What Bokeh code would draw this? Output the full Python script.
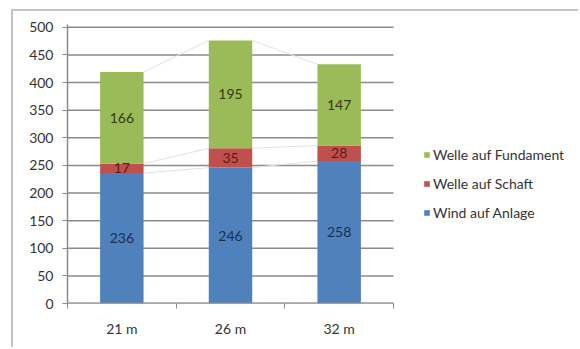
from bokeh.plotting import figure
from bokeh.models import (ColumnDataSource, Range1d, FixedTicker, Legend, LegendItem, LabelSet)
from bokeh.core.properties import value
from bokeh.embed import file_html
from bokeh.resources import INLINE

categories = ["21 m", "26 m", "32 m"]
series_names = ["Wind auf Anlage", "Welle auf Schaft", "Welle auf Fundament"]
wind = [236, 246, 258]
schaft = [17, 35, 28]
fundament = [166, 195, 147]
y_ticks = [0, 50, 100, 150, 200, 250, 300, 350, 400, 450, 500]

colors = ["#4F81BD", "#C0504D", "#9BBB59"]
label_colors = ["#1c2f52", "#5a1a18", "#2f3d12"]
FONT = "Lato"
GRID = "#8a8a8a"

n = len(categories)
xs = [i + 0.5 for i in range(n)]
series = [wind, schaft, fundament]

# outer chart border via CSS; figure offset inside the window
OFF_X, OFF_Y, BW = 11, 9, 2
p = figure(width=580 - OFF_X - BW, height=349 - OFF_Y - BW,
           output_backend="svg", toolbar_location=None,
           x_range=Range1d(0, n * 513 / 326), y_range=Range1d(0, 505),
           min_border_left=67 - OFF_X - BW, min_border_right=0,
           min_border_top=13, min_border_bottom=46)
p.margin = (OFF_Y, 0, 0, OFF_X)
p.styles = {"border-top": "2px solid #c4c4c4", "border-left": "2px solid #c4c4c4"}
p.outline_line_color = None
p.background_fill_color = "white"
p.border_fill_color = "white"

# grid lines (only across the category span)
p.segment(x0=[0] * len(y_ticks), x1=[n] * len(y_ticks), y0=y_ticks, y1=y_ticks,
          line_color=GRID, line_width=1.5)

bw = 0.4
bottoms = [0] * n
levels = []
for s in series:
    tops = [b + v for b, v in zip(bottoms, s)]
    levels.append((bottoms[:], tops[:]))
    bottoms = tops
# faint series lines
for (b, t) in levels:
    for i in range(n - 1):
        p.line([xs[i] + bw / 2, xs[i + 1] - bw / 2], [t[i], t[i + 1]],
               line_color="#e2e2e2", line_width=1)

renderers = []
for k, s in enumerate(series):
    b, t = levels[k]
    src = ColumnDataSource(dict(x=xs, bottom=b, top=t,
                                mid=[(bb + tt) / 2 for bb, tt in zip(b, t)],
                                lab=[str(v) for v in s]))
    r = p.vbar(x="x", bottom="bottom", top="top", width=bw, source=src,
               fill_color=colors[k], line_color=None)
    renderers.append(r)
    ls = LabelSet(x="x", y="mid", text="lab", source=src, text_align="center",
                  text_baseline="middle", text_font=value(FONT), text_font_size="14px",
                  text_color=label_colors[k])
    p.add_layout(ls)

# x-axis line across category span only
p.segment(x0=[0], x1=[n], y0=[0], y1=[0], line_color=GRID, line_width=2)

p.yaxis.ticker = FixedTicker(ticks=y_ticks)
p.yaxis.major_tick_out = 5
p.yaxis.major_tick_in = 0
p.yaxis.minor_tick_line_color = None
p.yaxis.axis_line_color = GRID
p.yaxis.axis_line_width = 1.5
p.yaxis.major_tick_line_color = GRID
p.yaxis.major_label_standoff = 9
p.yaxis.major_label_text_font = FONT
p.yaxis.major_label_text_font_size = "14px"
p.yaxis.major_label_text_color = "#333333"

p.xaxis.ticker = FixedTicker(ticks=xs, minor_ticks=list(range(n + 1)))
p.xaxis.major_label_overrides = {x: c for x, c in zip(xs, categories)}
p.xaxis.major_tick_out = 0
p.xaxis.major_tick_in = 0
p.xaxis.minor_tick_out = 5
p.xaxis.minor_tick_in = 0
p.xaxis.minor_tick_line_color = GRID
p.xaxis.axis_line_color = None
p.xaxis.major_label_standoff = 11
p.xaxis.major_label_text_font = FONT
p.xaxis.major_label_text_font_size = "14px"
p.xaxis.major_label_text_color = "#333333"

p.xgrid.grid_line_color = None
p.ygrid.grid_line_color = None

items = [LegendItem(label=series_names[k], renderers=[renderers[k]]) for k in [2, 1, 0]]
legend = Legend(items=items, location=(356, 81), orientation="vertical")
legend.glyph_width = 7
legend.glyph_height = 7
legend.label_standoff = 3
legend.label_height = 20
legend.spacing = 9
legend.padding = 0
legend.margin = 0
legend.border_line_color = None
legend.background_fill_alpha = 0
legend.label_text_font = FONT
legend.label_text_font_size = "14px"
legend.label_text_color = "#333333"
p.add_layout(legend, "center")

open("out.html", "w").write(file_html(p, INLINE))
